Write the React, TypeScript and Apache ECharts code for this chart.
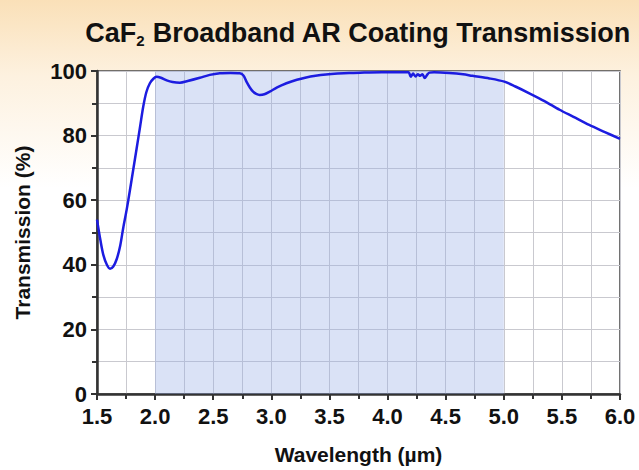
import React, { useEffect, useRef } from "react";
import * as echarts from "echarts";

const wavelengths = [
  1.5, 1.53, 1.555, 1.585, 1.612, 1.64, 1.67, 1.7, 1.726, 1.755, 1.783, 1.812, 1.841, 1.87, 1.898, 1.925,
  1.955, 1.985, 2.012, 2.05, 2.1, 2.15, 2.213, 2.28, 2.385, 2.47, 2.557, 2.65, 2.728, 2.76, 2.786, 2.815,
  2.843, 2.87, 2.9, 2.94, 2.986, 3.05, 3.13, 3.22, 3.3, 3.38, 3.47, 3.57, 3.67, 3.8, 3.95, 4.1, 4.18,
  4.2, 4.22, 4.24, 4.26, 4.28, 4.3, 4.32, 4.34, 4.36, 4.4, 4.53, 4.65, 4.73, 4.876, 5.005, 5.1, 5.22,
  5.35, 5.48, 5.6, 5.735, 5.87, 6.0,
];
const transmission = [
  54, 47.5, 43, 40, 38.8, 39.5, 41.8, 46, 51.5, 57, 63, 69.5, 76, 82.6, 89, 93.5,
  96.2, 97.6, 98.2, 97.9, 97.1, 96.6, 96.4, 96.9, 97.9, 98.8, 99.3, 99.4, 99.3, 98.6, 96.7, 94.9,
  93.6, 92.9, 92.6, 92.8, 93.6, 94.9, 96.2, 97.3, 98, 98.5, 98.9, 99.2, 99.4, 99.5, 99.6, 99.6, 99.6,
  98.2, 99.2, 98.3, 99.0, 98.5, 99.0, 97.8, 98.8, 99.5, 99.6, 99.4, 99.0, 98.5, 97.7, 96.7, 95.2, 93.1,
  90.7, 88, 85.8, 83.3, 81.1, 79,
];
const xTicks = ["1.5", "2.0", "2.5", "3.0", "3.5", "4.0", "4.5", "5.0", "5.5", "6.0"];
const yTicks = ["0", "20", "40", "60", "80", "100"];
const coatedBand = [2.0, 5.0];

const FONT = "'Liberation Sans', Arial, sans-serif";

export default function App() {
  const ref = useRef<HTMLDivElement>(null);
  useEffect(() => {
    document.body.style.margin = "0";
    const chart = echarts.init(ref.current!, null, { renderer: "svg" });
    const data = wavelengths.map((w, i) => [w, transmission[i]]);
    chart.setOption({
      animation: false,
      backgroundColor: {
        type: "linear",
        x: 0,
        y: 0,
        x2: 0,
        y2: 1,
        colorStops: [
          { offset: 0, color: "#fae0b8" },
          { offset: 0.16, color: "#fdf1df" },
          { offset: 0.4, color: "#ffffff" },
          { offset: 1, color: "#ffffff" },
        ],
      },
      title: {
        text: "CaF{sub|2} Broadband AR Coating Transmission",
        left: 353,
        textAlign: "center",
        top: 12,
        textStyle: {
          fontFamily: FONT,
          fontWeight: "bold",
          fontSize: 27,
          color: "#111",
          rich: {
            sub: {
              fontFamily: FONT,
              fontWeight: "bold",
              fontSize: 15,
              color: "#111",
              verticalAlign: "bottom",
              padding: [16, 0, 0, 0],
            },
          },
        },
      },
      grid: {
        left: 97,
        right: 19,
        top: 71,
        bottom: 75,
        show: true,
        borderColor: "#444",
        borderWidth: 1.5,
        backgroundColor: "#ffffff",
      },
      xAxis: {
        type: "value",
        min: 1.5,
        max: 6.0,
        interval: 0.5,
        name: "Wavelength (µm)",
        nameLocation: "middle",
        nameGap: 50,
        nameTextStyle: { fontFamily: FONT, fontWeight: "bold", fontSize: 21, color: "#111" },
        axisLine: { show: true, lineStyle: { color: "#333", width: 2.5 } },
        axisTick: { show: true, length: 6, lineStyle: { color: "#333", width: 2 } },
        minorTick: { show: true, splitNumber: 2, length: 5, lineStyle: { color: "#333", width: 2 } },
        splitLine: { show: true, lineStyle: { color: "#c9c9cf", width: 1 } },
        minorSplitLine: { show: true, lineStyle: { color: "#c9c9cf", width: 1 } },
        axisLabel: {
          fontFamily: FONT,
          fontWeight: "bold",
          fontSize: 22,
          color: "#111",
          margin: 11,
          formatter: (v: number) => {
            const s = v.toFixed(1);
            return xTicks.includes(s) ? s : "";
          },
        },
      },
      yAxis: {
        type: "value",
        min: 0,
        max: 100,
        interval: 20,
        name: "Transmission (%)",
        nameLocation: "middle",
        nameGap: 64,
        nameTextStyle: { fontFamily: FONT, fontWeight: "bold", fontSize: 21, color: "#111" },
        axisLine: { show: true, lineStyle: { color: "#333", width: 2.5 } },
        axisTick: { show: true, length: 6, lineStyle: { color: "#333", width: 2 } },
        minorTick: { show: true, splitNumber: 2, length: 5, lineStyle: { color: "#333", width: 2 } },
        splitLine: { show: true, lineStyle: { color: "#c9c9cf", width: 1 } },
        minorSplitLine: { show: true, lineStyle: { color: "#c9c9cf", width: 1 } },
        axisLabel: {
          fontFamily: FONT,
          fontWeight: "bold",
          fontSize: 22,
          color: "#111",
          margin: 10,
          formatter: (v: number) => {
            const s = String(v);
            return yTicks.includes(s) ? s : "";
          },
        },
      },
      series: [
        {
          type: "line",
          data,
          smooth: 0.3,
          showSymbol: false,
          symbol: "none",
          lineStyle: { color: "#1c1ce0", width: 2.5 },
          markArea: {
            silent: true,
            itemStyle: { color: "rgba(150,172,228,0.35)" },
            data: [[{ xAxis: coatedBand[0] }, { xAxis: coatedBand[1] }]],
          },
          z: 3,
        },
      ],
    });
    return () => chart.dispose();
  }, []);
  return <div ref={ref} style={{ width: 639, height: 470 }} />;
}
